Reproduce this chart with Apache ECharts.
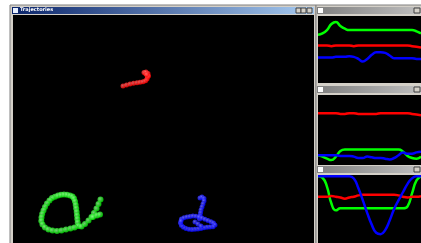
<!DOCTYPE html>
<html>
<head>
<meta charset="utf-8">
<script src="https://cdn.jsdelivr.net/npm/echarts@6.0.0/dist/echarts.min.js"></script>
<style>
    html, body { margin: 0; padding: 0; background: #fff; }
    #main { width: 421px; height: 243px; }
</style>
</head>
<body>
<div id="main"></div>
<script>
// trajectory points, x/y inside the main view (y grows downwards)
var redTraj = [[110,71],[113.5,70],[117,69],[120.5,68.3],[124,67.7],[127,67.3],[130,66.7],[132.5,65.7],
    [134,64],[134.5,62],[134,60],[132.5,58.5],[131,57.5],[133,57],[135,58.5],[135.5,61],[133.5,59.5]];
var greenTraj = [[42,181.7],[45,180.5],[48,179.8],[51,179.5],[54,179.7],[57,180.5],[59.5,181.5],[61,183.5],
    [62,186.5],[62.7,190],[63.2,193.5],[63.7,197],[64,200.5],[64.3,204],[64.7,207.5],[65.3,211],
    [39,183],[36.5,185.5],[34,188.5],[32,192],[30.5,195.5],[29.2,199],[28.5,202.5],[28.3,206],
    [29.5,209.5],[32,212.5],[35.5,214.5],[39.5,215.5],[44,216],[48.5,215.5],[53,214.5],[57.5,213.5],[61.5,212.5],
    [68.5,211.5],[72,209],[75.5,205.5],[78.5,202],[81,198],[83.5,193.5],[85.5,189],[87.5,184.5],
    [80,202],[84,200.5],[87,199.5]];
var blueTraj = [[187,183],[189,182],[191,183.5],[191,186],[190,189],[189,192],[188,195],[187.5,198],[187,201],[186.5,204],
    [168.5,204],[171,202.8],[174,202],[177,201.5],[180,201],[183,201.3],[186,202],[189,203],[192,204.3],
    [195,205.5],[198,206.7],[200.5,208],[202,210],[200,211.8],[197,212],[194,212.3],[191,212.8],[188,213.5],
    [185,214],[182,214.3],[179,214.5],[176,214.3],[173,213.5],[170.5,212.3],[168.5,210.5],[167.5,208],[168,206],
    [182,207],[185,209],[188,211]];

// time steps of the small signal windows
var steps = [0,1,2,3,4,5,6,7,8,9,10,11,12,13,14,15,16,17,18,19,20,21,22,23];

// window 1
var p1Green = [72,74,79,88,91,85,81,79,79,79,79,79,79,79,79,79,79,79,79,79,79,79,77,74];
var p1Red   = [56,56,56,55,56,56,56,56,55,56,56,56,56,56,56,56,56,56,56,56,56,55,54,53];
var p1Blue  = [38,38,38,38,39,39,39,40,39,36,32,36,42,46,46,45,41,37,37,37,37,37,36,36];
// window 2
var p2Green = [14,12,9,7,12,20,22,22,22,22,22,22,22,22,22,22,22,22,22,19,13,10,9,12];
var p2Red   = [74,74,74,74,74,73,73,74,74,73,73,73,73,73,74,74,74,74,74,74,74,73,72,71];
var p2Blue  = [14,14,14,14,14,13,13,13,12,10,10,12,11,10,10,9,8,10,14,18,16,16,18,19];
// window 3
var p3Green = [98,96,83,58,48,51,51,51,51,51,51,51,51,51,51,51,51,51,51,51,54,73,92,98];
var p3Red   = [68,68,68,69,68,67,65,67,68,70,71,71,71,71,71,71,71,71,70,68,67,68,68,69];
var p3Blue  = [98,98,98,98,98,98,98,98,95,81,63,44,27,15,13,19,33,50,63,75,87,95,98,98];

function ball(light, dark) {
    return {
        type: 'radial', x: 0.4, y: 0.4, r: 0.6,
        colorStops: [{offset: 0, color: light}, {offset: 1, color: dark}]
    };
}

function lineSeries(idx, data, color) {
    return {
        type: 'line', xAxisIndex: idx, yAxisIndex: idx, data: data,
        smooth: true, symbol: 'none', silent: true,
        lineStyle: {color: color, width: 2.5}
    };
}

function titleBar(x, y, w, c1, c2) {
    return {
        type: 'rect', shape: {x: x, y: y, width: w, height: 7}, silent: true,
        style: {fill: new echarts.graphic.LinearGradient(0, 0, 1, 0, [
            {offset: 0, color: c1}, {offset: 1, color: c2}])}
    };
}

function box(x, y, w, h, fill, stroke) {
    return {
        type: 'rect', shape: {x: x, y: y, width: w, height: h}, silent: true,
        style: {fill: fill, stroke: stroke || null, lineWidth: stroke ? 1 : 0}
    };
}

var chart = echarts.init(document.getElementById('main'));

// grids: 0 = main view, 1..3 = small windows
var grids = [
    {left: 13, top: 15, width: 301, height: 228},
    {left: 318, top: 16, width: 103, height: 67},
    {left: 318, top: 95, width: 103, height: 70},
    {left: 318, top: 175, width: 103, height: 80}
];

var xAxes = [{type: 'value', gridIndex: 0, min: 0, max: 301, show: false}];
var yAxes = [{type: 'value', gridIndex: 0, min: 0, max: 228, inverse: true, show: false}];
for (var i = 1; i <= 3; i++) {
    xAxes.push({type: 'category', gridIndex: i, data: steps, boundaryGap: false, show: false});
    yAxes.push({type: 'value', gridIndex: i, min: 0, max: 100, show: false});
}

// window chrome, with black view areas under the grids
var chrome = [
    box(10, 5, 306, 245, '#d4d0c8', '#808080'),
    titleBar(12, 7, 302, '#0a246a', '#a6caf0'),
    box(13, 8, 5, 5, '#e8f0ff'),
    {
        type: 'text', x: 20, y: 7.5, silent: true,
        style: {text: 'Trajectories', fill: '#fff', font: 'bold 5px "DejaVu Sans"'}
    },
    box(296, 8, 5, 5, '#d4d0c8', '#404040'),
    box(301, 8, 5, 5, '#d4d0c8', '#404040'),
    box(307, 8, 5, 5, '#d4d0c8', '#404040'),
    box(316, 5, 110, 245, '#d4d0c8', '#808080'),
    titleBar(317, 7, 106, '#808080', '#c0c0c0'),
    titleBar(317, 86, 106, '#808080', '#c0c0c0'),
    titleBar(317, 166, 106, '#808080', '#c0c0c0'),
    box(318, 8, 5, 5, '#ffffff'),
    box(318, 87, 5, 5, '#ffffff'),
    box(318, 167, 5, 5, '#ffffff'),
    box(414, 8, 6, 5, '#d4d0c8', '#404040'),
    box(414, 87, 6, 5, '#d4d0c8', '#404040'),
    box(414, 167, 6, 5, '#d4d0c8', '#404040')
];
grids.forEach(function (g, k) {
    chrome.push(box(g.left, g.top, g.width + (k ? 4 : 0), g.height, '#000'));
});

var option = {
    animation: false,
    backgroundColor: '#fff',
    graphic: {elements: chrome},
    grid: grids,
    xAxis: xAxes,
    yAxis: yAxes,
    series: [
        {type: 'scatter', xAxisIndex: 0, yAxisIndex: 0, data: redTraj, symbolSize: 5, silent: true,
            itemStyle: {color: ball('#ff7070', '#ff0000')}},
        {type: 'scatter', xAxisIndex: 0, yAxisIndex: 0, data: greenTraj, symbolSize: 6, silent: true,
            itemStyle: {color: ball('#90ff90', '#00e000')}},
        {type: 'scatter', xAxisIndex: 0, yAxisIndex: 0, data: blueTraj, symbolSize: 5, silent: true,
            itemStyle: {color: ball('#7070ff', '#0000ff')}},
        lineSeries(1, p1Green, '#00ff00'),
        lineSeries(1, p1Red, '#ff0000'),
        lineSeries(1, p1Blue, '#0000ff'),
        lineSeries(2, p2Green, '#00ff00'),
        lineSeries(2, p2Red, '#ff0000'),
        lineSeries(2, p2Blue, '#0000ff'),
        lineSeries(3, p3Green, '#00ff00'),
        lineSeries(3, p3Red, '#ff0000'),
        lineSeries(3, p3Blue, '#0000ff')
    ]
};
chart.setOption(option);
</script>
</body>
</html>
